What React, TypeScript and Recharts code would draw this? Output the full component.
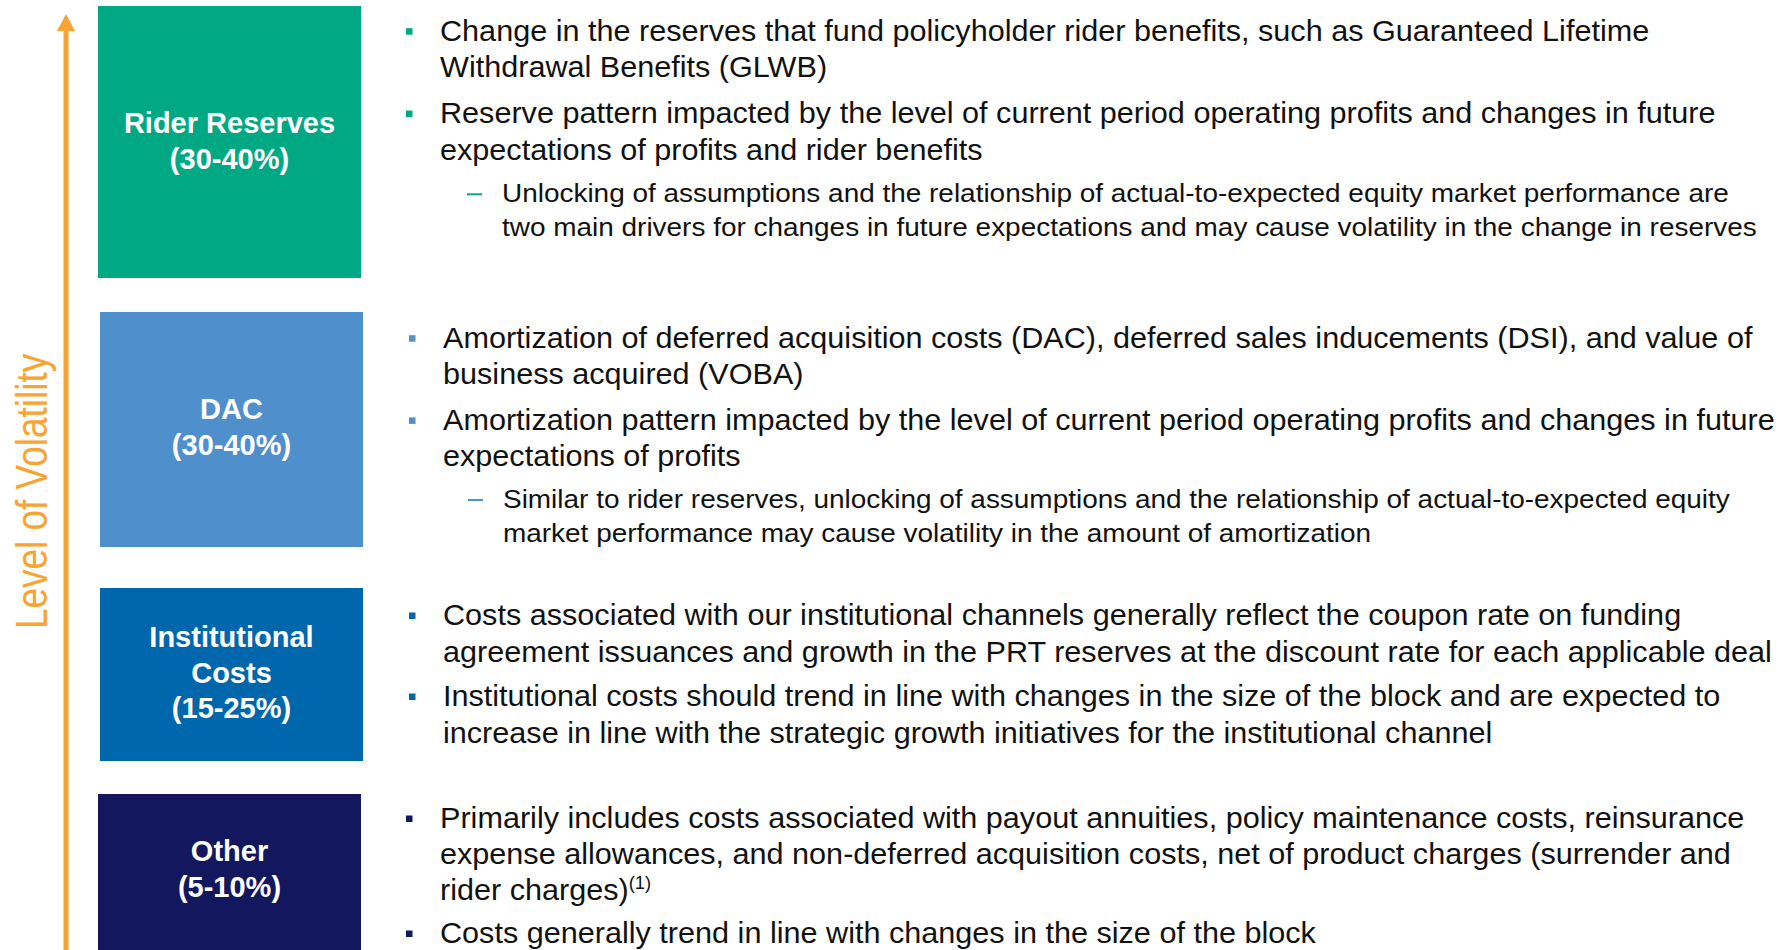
import React from 'react';
import { ComposedChart, XAxis, YAxis, ReferenceArea, ReferenceLine, Customized } from 'recharts';

// ---------- content ----------
const categories = ['Rider Reserves', 'DAC', 'Institutional Costs', 'Other'];
const labelLines = [['Rider Reserves'], ['DAC'], ['Institutional', 'Costs'], ['Other']];
const shareRanges = ['(30-40%)', '(30-40%)', '(15-25%)', '(5-10%)'];
const axisTitle = 'Level of Volatility';

type Item = { kind: 'main' | 'sub'; lines: string[] };

const riderBullets: Item[] = [
  { kind: 'main', lines: ['Change in the reserves that fund policyholder rider benefits, such as Guaranteed Lifetime', 'Withdrawal Benefits (GLWB)'] },
  { kind: 'main', lines: ['Reserve pattern impacted by the level of current period operating profits and changes in future', 'expectations of profits and rider benefits'] },
  { kind: 'sub', lines: ['Unlocking of assumptions and the relationship of actual-to-expected equity market performance are', 'two main drivers for changes in future expectations and may cause volatility in the change in reserves'] },
];
const dacBullets: Item[] = [
  { kind: 'main', lines: ['Amortization of deferred acquisition costs (DAC), deferred sales inducements (DSI), and value of', 'business acquired (VOBA)'] },
  { kind: 'main', lines: ['Amortization pattern impacted by the level of current period operating profits and changes in future', 'expectations of profits'] },
  { kind: 'sub', lines: ['Similar to rider reserves, unlocking of assumptions and the relationship of actual-to-expected equity', 'market performance may cause volatility in the amount of amortization'] },
];
const institutionalBullets: Item[] = [
  { kind: 'main', lines: ['Costs associated with our institutional channels generally reflect the coupon rate on funding', 'agreement issuances and growth in the PRT reserves at the discount rate for each applicable deal'] },
  { kind: 'main', lines: ['Institutional costs should trend in line with changes in the size of the block and are expected to', 'increase in line with the strategic growth initiatives for the institutional channel'] },
];
const otherBullets: Item[] = [
  { kind: 'main', lines: ['Primarily includes costs associated with payout annuities, policy maintenance costs, reinsurance', 'expense allowances, and non-deferred acquisition costs, net of product charges (surrender and', 'rider charges)'] },
  { kind: 'main', lines: ['Costs generally trend in line with changes in the size of the block'] },
];
const footnoteMark = '(1)';
const bulletsByCategory = [riderBullets, dacBullets, institutionalBullets, otherBullets];

// ---------- layout & style ----------
const W = 1789;
const H = 950;
const COLORS = ['#00A984', '#4F8FCB', '#0067AC', '#12175E'];
const ORANGE = '#F8A432';
const FONT = '"Liberation Sans", Arial, Helvetica, sans-serif';
const BOXES = [
  { x1: 98, x2: 361, y1: 6, y2: 278 },
  { x1: 100, x2: 363, y1: 312, y2: 547 },
  { x1: 100, x2: 363, y1: 588, y2: 761 },
  { x1: 98, x2: 361, y1: 794, y2: 950 },
];
const LABEL_FIRST = [133, 419, 647, 861];
const LABEL_GAP = 35.5;
const TEXT_X = [440, 443, 443, 440];
const SUB_X = [502, 503, 503, 502];
const BASELINES = [
  [40.7, 76.7, 123, 159.5, 202.3, 235.5],
  [347.7, 384.2, 429.9, 466.4, 508, 542.3],
  [625, 661.5, 706, 742.5],
  [828, 863.5, 900, 943],
];
const MAIN_SIZE = 30;
const MAIN_SX = 1.02;
const SUB_SIZE = 26.5;
const SUB_SX = 1.055;

if (typeof document !== 'undefined') {
  document.body.style.margin = '0';
}

const BoxLabel = (idx: number) => (props: any) => {
  const vb = props.viewBox || {};
  const cx = vb.x + vb.width / 2;
  const lines = [...labelLines[idx], shareRanges[idx]];
  const first = LABEL_FIRST[idx];
  return (
    <g>
      {lines.map((t, i) => (
        <text key={i} x={cx} y={first + i * LABEL_GAP} textAnchor="middle" fill="#FFFFFF"
          fontFamily={FONT} fontWeight="bold" fontSize={29}>{t}</text>
      ))}
    </g>
  );
};

const BulletText = () => {
  const out: React.ReactNode[] = [];
  bulletsByCategory.forEach((items, ci) => {
    let li = 0;
    items.forEach((item, ii) => {
      item.lines.forEach((line, k) => {
        const y = BASELINES[ci][li];
        const isSub = item.kind === 'sub';
        const x = isSub ? SUB_X[ci] : TEXT_X[ci];
        const size = isSub ? SUB_SIZE : MAIN_SIZE;
        const sx = isSub ? SUB_SX : MAIN_SX;
        const withNote = ci === 3 && ii === 0 && k === item.lines.length - 1;
        if (k === 0) {
          if (isSub) {
            out.push(<rect key={`m${ci}-${ii}`} x={x - 35} y={y - 9} width={15} height={2} fill={COLORS[ci]} />);
          } else {
            out.push(<rect key={`m${ci}-${ii}`} x={x - 34} y={y - 12.5} width={6.5} height={6.5} fill={COLORS[ci]} />);
          }
        }
        out.push(
          <g key={`t${ci}-${li}`} transform={`translate(${x},${y}) scale(${sx},1)`}>
            <text x={0} y={0} fill="#111111" fontFamily={FONT} fontSize={size}>
              {line}
              {withNote ? <tspan dy={-11} fontSize={18}>{footnoteMark}</tspan> : null}
            </text>
          </g>
        );
        li += 1;
      });
    });
  });
  // vertical axis title
  out.push(
    <g key="title" transform={`translate(46.7,491.5) rotate(-90) scale(0.84,1)`}>
      <text x={0} y={0} textAnchor="middle" fill={ORANGE} fontFamily={FONT} fontSize={44}>{axisTitle}</text>
    </g>
  );
  // arrow head
  out.push(<polygon key="head" points="57,31 75,31 66,14" fill={ORANGE} />);
  return <g>{out}</g>;
};

const data = categories.map((c) => ({ name: c }));

export default function App() {
  return (
    <div style={{ position: 'fixed', left: 0, top: 0, width: W, height: H, background: '#fff' }}>
      <ComposedChart width={W} height={H} data={data} margin={{ top: 0, right: 0, bottom: 0, left: 0 }}>
        <XAxis type="number" dataKey="x" domain={[0, W]} hide allowDataOverflow />
        <YAxis type="number" domain={[0, H]} reversed hide allowDataOverflow width={0} />
        {BOXES.map((b, i) => (
          <ReferenceArea key={categories[i]} x1={b.x1} x2={b.x2} y1={b.y1} y2={b.y2}
            fill={COLORS[i]} fillOpacity={1} stroke="none" ifOverflow="visible"
            label={{ content: BoxLabel(i) } as any} />
        ))}
        <ReferenceLine segment={[{ x: 66, y: 29 }, { x: 66, y: H }]} stroke={ORANGE} strokeWidth={5} ifOverflow="visible" />
        <Customized component={BulletText} />
      </ComposedChart>
    </div>
  );
}
